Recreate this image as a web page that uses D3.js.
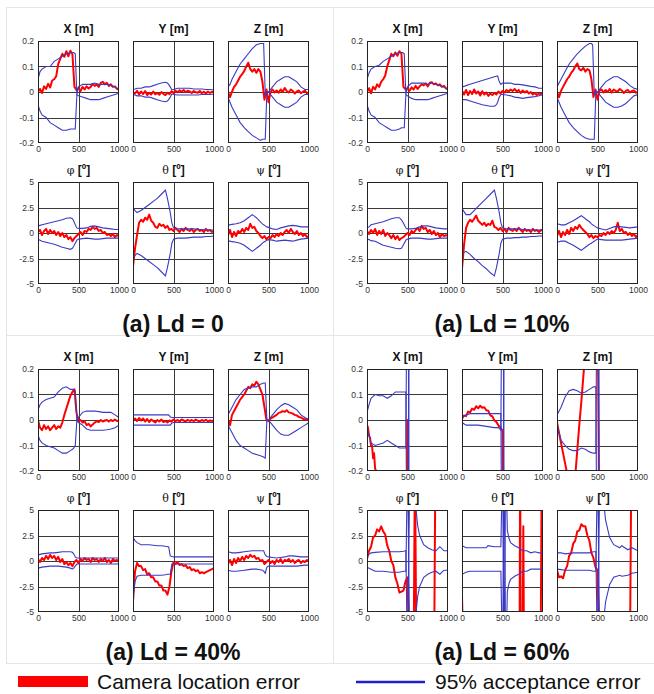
<!DOCTYPE html>
<html><head><meta charset="utf-8">
<script src="https://cdn.jsdelivr.net/npm/d3@7"></script>
<style>body{margin:0;background:#fff}text{font-family:"Liberation Sans",Arial,sans-serif}</style>
</head><body>
<svg id="chart" width="654" height="694"></svg>
<script>
// ---------- labels / ticks ----------
const captions = ["(a) Ld = 0", "(a) Ld = 10%", "(a) Ld = 40%", "(a) Ld = 60%"];
const subKeys = ["X", "Y", "Z", "phi", "theta", "psi"];
const subNames = ["X", "Y", "Z", "\u03c6", "\u03b8", "\u03c8"];
const subUnits = [" [m]", " [m]", " [m]", " [\u00ba]", " [\u00ba]", " [\u00ba]"];
const posTicks = [-0.2, -0.1, 0, 0.1, 0.2];
const angTicks = [-5, -2.5, 0, 2.5, 5];
const xTicks = [0, 500, 1000];
const legendLabels = ["Camera location error", "95% acceptance error"];

// ---------- sample positions ----------
const xsRed = [0,25,50,75,100,125,150,175,200,225,250,275,300,325,350,375,400,425,450,475,500,525,550,575,600,625,650,675,700,725,750,775,800,825,850,875,900,925,950,975,1000];
const xsEnv = [0,25,50,100,150,200,250,300,350,400,425,440,460,480,500,550,600,650,700,750,800,850,900,950,1000];

// ---------- Ld = 0 ----------
const ld0_X_red = [0,0.012,-0.004,0.022,0.012,0.032,0.018,0.045,0.05,0.062,0.11,0.13,0.15,0.138,0.16,0.14,0.162,0.148,0.02,0.008,0.016,0.004,0.02,0.01,0.022,0.014,0.02,0.032,0.024,0.03,0.02,0.036,0.04,0.03,0.036,0.024,0.03,0.02,0.022,0.012,0.01];
const ld0_X_up = [0.05,0.08,0.09,0.1,0.1,0.12,0.13,0.14,0.15,0.155,0.155,0.155,0.15,-0.01,0.02,0.03,0.03,0.03,0.035,0.03,0.03,0.03,0.025,0.02,0.01];
const ld0_X_lo = [-0.05,-0.075,-0.09,-0.1,-0.12,-0.13,-0.14,-0.15,-0.15,-0.145,-0.145,-0.145,-0.145,-0.01,-0.015,-0.02,-0.025,-0.03,-0.03,-0.03,-0.025,-0.02,-0.015,-0.01,-0.005];
const ld0_Y_red = [0,-0.006,0.005,-0.01,0.002,-0.008,0.004,-0.012,-0.003,-0.01,0.002,-0.009,-0.004,-0.011,0,-0.007,-0.012,-0.003,-0.009,0.003,-0.004,0.005,-0.001,0.007,0.001,0.008,-0.001,0.005,0.002,-0.004,0.004,-0.001,-0.003,0.004,-0.005,0.001,-0.006,0.002,-0.004,0.001,-0.002];
const ld0_Y_up = [0.01,0.012,0.015,0.015,0.02,0.02,0.025,0.03,0.035,0.038,0.035,0.03,0.02,0.008,0.01,0.015,0.015,0.015,0.015,0.012,0.012,0.012,0.01,0.01,0.008];
const ld0_Y_lo = [-0.01,-0.012,-0.015,-0.015,-0.02,-0.02,-0.025,-0.03,-0.035,-0.038,-0.035,-0.03,-0.02,-0.008,-0.01,-0.012,-0.012,-0.012,-0.012,-0.012,-0.012,-0.01,-0.01,-0.01,-0.008];
const ld0_Z_red = [0,-0.02,0.002,0.02,0.03,0.045,0.06,0.07,0.082,0.1,0.115,0.09,0.08,0.09,0.075,0.09,0.08,0.04,-0.03,0.01,-0.04,0,0.01,-0.002,0.006,-0.003,0.01,0,0.016,0.004,-0.002,0.01,0.004,-0.006,0.002,0.006,-0.005,0.001,0.005,-0.005,0];
const ld0_Z_up = [0.02,0.03,0.05,0.08,0.11,0.13,0.15,0.17,0.185,0.19,0.19,0.19,-0.01,0,0,0.02,0.04,0.05,0.06,0.06,0.05,0.04,0.02,0.01,0.01];
const ld0_Z_lo = [-0.02,-0.04,-0.06,-0.09,-0.12,-0.14,-0.155,-0.17,-0.18,-0.19,-0.185,-0.185,-0.185,0,0,-0.02,-0.04,-0.05,-0.06,-0.06,-0.05,-0.04,-0.02,-0.01,-0.01];
const ld0_phi_red = [0.1,0.3,-0.2,0.2,0.4,-0.1,0.3,0,0.2,-0.2,0.1,-0.3,0,-0.4,-0.2,-0.6,-0.4,-0.8,-0.5,-0.3,-0.1,0.1,-0.2,0.2,0.1,0.4,0.3,0.6,0.4,0.5,0.2,0.3,0,0.1,-0.2,-0.1,-0.3,-0.1,-0.4,-0.2,-0.3];
const ld0_phi_up = [0.7,0.75,0.8,0.9,1.0,1.1,1.2,1.3,1.45,1.5,1.4,1.2,0.8,0.5,0.45,0.45,0.5,0.65,0.7,0.6,0.5,0.45,0.4,0.35,0.35];
const ld0_phi_lo = [-0.6,-0.7,-0.8,-0.9,-1.0,-1.1,-1.25,-1.4,-1.5,-1.6,-1.5,-1.3,-1.0,-0.7,-0.6,-0.55,-0.5,-0.55,-0.6,-0.6,-0.55,-0.5,-0.5,-0.5,-0.5];
const ld0_theta_red = [-3.3,-1.5,-0.2,1.0,1.3,1.1,1.5,1.3,1.8,1.2,1.0,0.6,0.5,0.9,0.7,0.8,0.5,0.7,0.3,0.4,0.2,0.5,0.3,0.1,0.4,0.2,0.5,0.3,0.2,0.4,0.1,0.3,0.4,0.2,0.3,0.1,0.4,0.2,0.3,0.1,0.2];
const ld0_theta_up = [2.5,2.2,2.0,2.2,2.5,2.8,3.1,3.4,3.8,4.2,3.4,2.8,2.0,1.0,0.5,0.4,0.4,0.4,0.4,0.4,0.35,0.35,0.3,0.3,0.3];
const ld0_theta_lo = [-2.5,-2.2,-2.0,-2.2,-2.5,-2.8,-3.1,-3.4,-3.8,-4.2,-3.4,-2.8,-2.0,-1.0,-0.6,-0.5,-0.5,-0.5,-0.45,-0.4,-0.4,-0.4,-0.35,-0.35,-0.3];
const ld0_psi_red = [-0.2,0.3,-0.4,0.1,-0.3,0.2,0,0.4,0.1,0.5,0.3,0.9,0.5,0.6,0.2,0,-0.3,-0.5,-0.3,-0.6,-0.4,-0.5,-0.2,-0.4,-0.1,-0.3,0,-0.2,0.1,0.3,0,0.4,0.1,-0.1,0.2,-0.2,0,-0.3,-0.1,-0.4,-0.3];
const ld0_psi_up = [0.8,0.8,0.85,0.9,1.0,1.2,1.5,1.8,1.5,1.1,0.9,0.8,0.7,0.6,0.55,0.4,0.35,0.5,0.6,0.7,0.75,0.7,0.6,0.6,0.6];
const ld0_psi_lo = [-0.8,-0.8,-0.85,-0.9,-1.0,-1.2,-1.5,-1.8,-1.5,-1.2,-1.0,-0.9,-0.8,-0.7,-0.65,-0.7,-0.8,-0.75,-0.7,-0.75,-0.8,-0.7,-0.6,-0.55,-0.5];

// ---------- Ld = 10% ----------
const ld10_X_red = [0,0.015,-0.005,0.02,0.01,0.03,0.02,0.04,0.05,0.065,0.1,0.125,0.15,0.14,0.155,0.142,0.16,0.15,0.02,0.01,0.014,0.005,0.018,0.01,0.024,0.012,0.022,0.03,0.026,0.034,0.022,0.036,0.038,0.03,0.034,0.026,0.03,0.02,0.024,0.014,0.012];
const ld10_X_up = [0.05,0.075,0.09,0.1,0.105,0.12,0.13,0.14,0.15,0.155,0.155,0.155,0.15,-0.01,0.02,0.035,0.035,0.035,0.035,0.03,0.035,0.03,0.025,0.02,0.01];
const ld10_X_lo = [-0.05,-0.075,-0.09,-0.1,-0.12,-0.13,-0.14,-0.15,-0.15,-0.145,-0.14,-0.14,-0.14,-0.01,-0.015,-0.025,-0.03,-0.03,-0.03,-0.03,-0.025,-0.02,-0.015,-0.01,-0.005];
const ld10_Y_red = [0.005,-0.01,0.008,-0.012,0.004,-0.008,0.01,-0.006,0.002,-0.014,0.003,-0.01,-0.002,-0.015,-0.006,-0.012,-0.004,-0.01,0.002,-0.006,0.004,-0.002,0.008,0.002,0.01,0.004,0.012,0.002,0.008,-0.004,0.006,-0.002,0.004,-0.006,0,-0.01,-0.004,-0.012,-0.006,-0.008,-0.002];
const ld10_Y_up = [0.02,0.022,0.025,0.03,0.035,0.04,0.045,0.05,0.055,0.06,0.062,0.063,0.04,0.03,0.035,0.035,0.035,0.03,0.03,0.028,0.025,0.022,0.02,0.015,0.015];
const ld10_Y_lo = [-0.03,-0.03,-0.03,-0.035,-0.04,-0.045,-0.05,-0.053,-0.056,-0.056,-0.05,-0.04,-0.02,-0.01,-0.01,-0.012,-0.015,-0.02,-0.022,-0.025,-0.022,-0.02,-0.018,-0.015,-0.01];
const ld10_Z_red = [0,-0.02,0.005,0.02,0.035,0.05,0.06,0.075,0.085,0.1,0.112,0.09,0.085,0.095,0.08,0.09,0.085,0.05,-0.02,0.01,-0.03,0.005,0.01,-0.002,0.008,0,0.012,-0.002,0.01,0.004,0.002,0.012,0.006,-0.004,0.004,0.008,-0.002,0.004,0.006,-0.003,0.002];
const ld10_Z_up = [0.02,0.035,0.05,0.08,0.11,0.13,0.15,0.165,0.18,0.19,0.19,0.185,-0.01,0,0,0.02,0.04,0.05,0.06,0.06,0.05,0.04,0.025,0.015,0.01];
const ld10_Z_lo = [-0.02,-0.04,-0.06,-0.09,-0.12,-0.14,-0.155,-0.17,-0.18,-0.185,-0.185,-0.185,-0.185,0,0,-0.02,-0.04,-0.05,-0.06,-0.06,-0.055,-0.045,-0.03,-0.015,-0.01];
const ld10_phi_red = [0.2,-0.1,0.3,0,0.4,-0.2,0.2,-0.1,0.3,-0.3,0,-0.2,-0.5,-0.2,-0.6,-0.3,-0.7,-0.5,-0.4,-0.2,0,-0.2,0.2,0,0.3,0.5,0.2,0.7,0.4,0.5,0.1,0.3,-0.1,0.2,-0.2,0,-0.4,-0.1,-0.3,-0.2,-0.3];
const ld10_phi_up = [0.5,0.6,0.8,0.9,1.0,1.1,1.25,1.4,1.5,1.5,1.3,1.1,0.8,0.5,0.4,0.4,0.45,0.6,0.7,0.7,0.6,0.5,0.45,0.4,0.4];
const ld10_phi_lo = [-0.6,-0.65,-0.75,-0.8,-1.0,-1.2,-1.3,-1.4,-1.5,-1.55,-1.5,-1.3,-1.0,-0.7,-0.6,-0.5,-0.5,-0.5,-0.55,-0.6,-0.6,-0.55,-0.5,-0.5,-0.5];
const ld10_theta_red = [-3.5,-1.2,0.5,1.0,1.3,1.1,1.4,1.7,1.2,1.0,0.8,1.0,0.7,0.9,0.8,1.2,0.6,0.5,0.3,0.5,0.2,0.4,0.1,0.5,0.3,0.2,0.4,0.2,0.5,0.3,0.1,0.4,0.2,0.3,0.1,0.4,0.2,0.3,0.1,0.3,0.2];
const ld10_theta_up = [2.4,2.1,1.8,1.8,2.2,2.6,3.0,3.4,3.8,4.2,3.4,2.8,2.0,1.0,0.5,0.4,0.4,0.4,0.4,0.35,0.35,0.3,0.3,0.3,0.3];
const ld10_theta_lo = [-2.1,-1.9,-1.8,-2.1,-2.5,-2.8,-3.2,-3.5,-3.9,-4.2,-3.4,-2.8,-2.0,-1.0,-0.6,-0.5,-0.5,-0.45,-0.45,-0.4,-0.4,-0.35,-0.35,-0.3,-0.3];
const ld10_psi_red = [-0.3,0.2,-0.4,0.1,-0.2,0.3,-0.1,0.5,0.2,0.6,0.4,0.8,0.5,0.3,0.1,-0.1,-0.4,-0.2,-0.5,-0.3,-0.4,-0.2,-0.3,0,-0.2,0.1,-0.1,0.2,0,0.3,1.0,0.2,0.4,0,0.1,-0.2,0,-0.3,-0.1,-0.4,-0.2];
const ld10_psi_up = [0.9,0.85,0.8,0.8,1.0,1.2,1.45,1.7,1.4,1.1,0.9,0.8,0.7,0.6,0.5,0.4,0.3,0.45,0.6,0.65,0.6,0.55,0.5,0.55,0.6];
const ld10_psi_lo = [-0.9,-0.85,-0.8,-0.8,-1.0,-1.2,-1.45,-1.7,-1.4,-1.1,-1.0,-0.9,-0.8,-0.7,-0.6,-0.65,-0.7,-0.7,-0.7,-0.7,-0.7,-0.65,-0.6,-0.55,-0.5];

// ---------- Ld = 40% ----------
const ld40_X_red = [0,-0.03,-0.04,-0.02,-0.035,-0.025,-0.04,-0.03,-0.02,-0.035,-0.025,-0.03,-0.01,0.02,0.045,0.07,0.095,0.11,0.12,0.03,-0.005,0,-0.01,-0.005,-0.02,-0.015,-0.025,-0.018,-0.01,-0.005,-0.008,0,-0.006,-0.002,0,-0.006,0,-0.004,0.002,-0.004,-0.002];
const ld40_X_up = [0.04,0.06,0.07,0.08,0.085,0.09,0.11,0.125,0.13,0.12,0.12,0.12,0.115,0,0.01,0.03,0.035,0.035,0.035,0.033,0.03,0.03,0.03,0.02,0.01];
const ld40_X_lo = [-0.06,-0.08,-0.09,-0.1,-0.105,-0.11,-0.12,-0.13,-0.13,-0.12,-0.115,-0.11,-0.1,0,-0.01,-0.02,-0.035,-0.04,-0.04,-0.04,-0.04,-0.038,-0.035,-0.03,-0.02];
const ld40_Y_red = [0,0.006,-0.004,0.008,-0.002,0.006,-0.006,0.004,-0.008,0.002,-0.004,-0.01,0,-0.006,0.002,-0.008,-0.004,-0.01,-0.002,-0.006,0.002,-0.004,0,-0.006,0.002,-0.002,-0.006,0.001,-0.004,0,-0.005,0.002,-0.003,-0.006,0,-0.004,0.001,-0.005,-0.002,-0.004,-0.002];
const ld40_Y_up = [0.02,0.02,0.02,0.02,0.02,0.02,0.02,0.02,0.02,0.02,0.02,0.02,0.012,0.01,0.01,0.01,0.01,0.01,0.01,0.01,0.01,0.01,0.01,0.01,0.01];
const ld40_Y_lo = [-0.02,-0.02,-0.02,-0.02,-0.02,-0.02,-0.02,-0.02,-0.02,-0.02,-0.02,-0.02,-0.02,-0.012,-0.01,-0.01,-0.01,-0.01,-0.01,-0.01,-0.01,-0.01,-0.01,-0.01,-0.01];
const ld40_Z_red = [0,-0.02,0.02,0.035,0.05,0.065,0.08,0.09,0.1,0.115,0.13,0.125,0.14,0.135,0.15,0.14,0.12,0.1,0.05,0,-0.005,0.005,0.01,0.015,0.02,0.028,0.03,0.035,0.032,0.038,0.03,0.028,0.025,0.02,0.018,0.012,0.01,0.005,0.002,0.003,0];
const ld40_Z_up = [0.02,0.035,0.05,0.08,0.1,0.12,0.125,0.13,0.13,0.14,0.143,0.145,0.145,0,0,0.02,0.04,0.055,0.065,0.06,0.05,0.04,0.02,0.01,0];
const ld40_Z_lo = [-0.02,-0.035,-0.05,-0.08,-0.1,-0.11,-0.12,-0.13,-0.135,-0.14,-0.143,-0.145,-0.15,0,0,-0.02,-0.04,-0.055,-0.06,-0.06,-0.05,-0.04,-0.03,-0.02,-0.01];
const ld40_phi_red = [0.2,-0.1,0.3,0.1,0.5,0.2,0.6,0.3,0.5,0.1,0.4,-0.1,0.2,-0.3,-0.1,-0.4,-0.2,-0.5,-0.1,0.1,-0.2,0.2,0,0.3,0.1,0.2,-0.1,0.3,0.1,0.2,-0.1,0.2,0,0.3,-0.1,0.1,-0.2,0.2,0,0.1,-0.1];
const ld40_phi_up = [0.6,0.65,0.7,0.75,0.8,0.8,0.85,0.9,0.9,0.9,0.85,0.7,0.4,0.3,0.3,0.3,0.3,0.3,0.3,0.3,0.3,0.3,0.3,0.3,0.3];
const ld40_phi_lo = [-0.7,-0.65,-0.6,-0.55,-0.5,-0.5,-0.5,-0.55,-0.6,-0.7,-0.8,-0.7,-0.5,-0.3,-0.3,-0.3,-0.3,-0.3,-0.3,-0.3,-0.3,-0.3,-0.3,-0.3,-0.3];
const ld40_theta_red = [-4.0,-1.0,-0.2,-0.5,-0.5,-0.9,-0.8,-1.3,-1.2,-1.6,-1.6,-2.0,-2.0,-2.4,-2.4,-2.9,-2.9,-3.3,-2.5,-1.0,-0.1,-0.3,-0.1,-0.4,-0.3,-0.5,-0.4,-0.7,-0.6,-0.9,-0.8,-1.0,-0.9,-1.2,-1.1,-1.2,-1.1,-1.0,-0.9,-0.8,-0.7];
const ld40_theta_up = [2.3,2.0,1.8,1.6,1.6,1.6,1.55,1.5,1.5,1.45,1.4,1.4,0.5,0.45,0.4,0.4,0.4,0.4,0.4,0.4,0.4,0.4,0.4,0.4,0.4];
const ld40_theta_lo = [-3.5,-2.0,-1.5,-1.4,-1.4,-1.4,-1.4,-1.4,-1.4,-1.35,-1.3,-1.3,-1.3,-0.3,-0.3,-0.3,-0.3,-0.3,-0.3,-0.3,-0.3,-0.3,-0.3,-0.3,-0.3];
const ld40_psi_red = [-0.3,0.1,-0.4,0.2,-0.2,0.3,0,0.4,0.1,0.5,0.3,0.6,0.4,0.5,0.2,0.3,0,0.1,-0.3,-0.1,0.1,-0.2,0,-0.3,0.1,-0.1,0.2,-0.2,0.1,0,0.2,-0.1,0.1,-0.2,0,0.1,-0.2,0,-0.1,0.1,-0.1];
const ld40_psi_up = [0.9,0.85,0.8,0.8,0.85,0.9,0.95,1.0,1.0,1.0,1.0,1.0,0.6,0.45,0.4,0.35,0.3,0.35,0.4,0.5,0.5,0.45,0.4,0.4,0.4];
const ld40_psi_lo = [-0.9,-0.95,-1.0,-1.0,-0.95,-0.9,-0.85,-0.8,-0.8,-0.85,-0.9,-1.0,-1.2,-0.6,-0.5,-0.5,-0.5,-0.5,-0.5,-0.5,-0.5,-0.5,-0.45,-0.4,-0.4];

// ---------- Ld = 60% (diverges: values beyond the axis range are clipped) ----------
const ld60_X_red_x = [0,12,25,37,50,62,75,87,100,112,125,475,500,525,1000];
const ld60_X_red = [-0.02,-0.03,-0.06,-0.07,-0.1,-0.1,-0.15,-0.13,-0.19,-0.2,-0.3,-1,0,-1,-1];
const ld60_X_env_x = [0,25,50,100,150,200,250,300,350,400,450,480,500,530,1000];
const ld60_X_up = [0.03,0.06,0.085,0.1,0.095,0.095,0.085,0.095,0.11,0.11,0.11,0.11,-1,1,1];
const ld60_X_lo = [-0.03,-0.06,-0.09,-0.1,-0.095,-0.09,-0.08,-0.09,-0.1,-0.11,-0.11,-0.11,1,-1,-1];
const ld60_Y_red_x = [0,25,50,75,100,125,150,175,200,225,250,275,300,325,350,375,400,425,450,475,500,520,1000];
const ld60_Y_red = [0.005,0.018,0.015,0.033,0.03,0.045,0.04,0.054,0.046,0.056,0.048,0.05,0.038,0.036,0.018,0.014,-0.002,-0.008,-0.022,-0.028,-0.042,-1,-1];
const ld60_Y_env_x = [0,50,100,200,300,400,450,480,500,530,1000];
const ld60_Y_up = [0.01,0.02,0.025,0.025,0.025,0.025,0.025,0.025,-1,1,1];
const ld60_Y_lo = [-0.01,-0.02,-0.02,-0.02,-0.025,-0.03,-0.03,-0.04,1,-1,-1];
const ld60_Z_red_x = [0,25,50,75,100,125,150,225,250,275,300,325,350,375,500,525,1000];
const ld60_Z_red = [-0.01,-0.05,-0.09,-0.13,-0.17,-0.21,-0.5,-0.22,-0.12,-0.02,0.07,0.17,0.27,0.5,0.5,-0.5,-0.5];
const ld60_Z_env_x = [0,50,100,150,200,250,300,350,400,450,480,500,530,1000];
const ld60_Z_up = [0.02,0.05,0.09,0.115,0.12,0.115,0.105,0.11,0.12,0.13,0.13,-1,1,1];
const ld60_Z_lo = [-0.02,-0.08,-0.1,-0.115,-0.12,-0.12,-0.11,-0.115,-0.125,-0.13,-0.13,1,-1,-1];
const ld60_phi_red_x = [0,25,50,75,100,125,150,175,200,225,250,275,300,325,350,375,400,425,450,475,500,525,575,592,610,828,845,1000];
const ld60_phi_red = [0.2,1.0,1.4,2.3,2.5,3.1,2.9,3.4,2.9,2.6,1.5,1.0,0.0,-0.4,-1.6,-2.2,-3.1,-3.0,-2.9,-2.0,-1.6,-10,-10,10,-10,-10,10,10];
const ld60_phi_env_x = [0,50,100,200,300,400,450,480,500,530,600,625,650,700,750,800,850,900,950,1000];
const ld60_phi_up = [0.5,0.8,0.85,0.9,0.9,0.9,0.95,1.0,-10,10,5.5,3.5,2.5,1.6,1.3,1.1,1.0,1.4,1.0,1.0];
const ld60_phi_lo = [-0.6,-0.8,-1.0,-1.0,-1.1,-1.1,-1.0,-1.0,10,-10,-5.5,-3.5,-2.5,-1.6,-1.3,-1.1,-1.0,-1.3,-0.9,-0.9];
const ld60_theta_red_x = [0,20,710,718,726,748,757,766,970,985,1000];
const ld60_theta_red = [-3.5,-10,-10,10,-10,-10,3.4,-10,-10,10,10];
const ld60_theta_env_x = [0,50,100,200,300,320,400,450,480,500,520,540,560,580,600,650,700,750,800,850,900,950,1000];
const ld60_theta_up = [1.5,1.3,1.3,1.3,1.3,1.5,1.4,1.4,1.4,10,-10,10,3.0,2.2,1.8,1.5,1.3,1.0,1.0,0.8,0.9,0.8,0.8];
const ld60_theta_lo = [-1.3,-1.1,-1.0,-1.0,-1.0,-1.0,-1.0,-1.0,-1.0,-10,10,-10,-3.0,-2.2,-1.8,-1.5,-1.3,-1.0,-1.0,-0.8,-0.8,-0.8,-0.8];
const ld60_psi_red_x = [0,25,50,75,100,125,150,175,200,225,250,275,300,325,350,375,400,425,450,475,500,525,900,918,1000];
const ld60_psi_red = [-0.9,-1.6,-1.5,-1.7,-0.9,-0.5,0.5,0.8,1.7,2.0,2.9,3.0,3.6,3.4,3.4,2.5,2.0,0.8,0.3,-0.6,-0.9,-10,-10,10,10];
const ld60_psi_env_x = [0,50,100,200,300,400,450,480,500,530,580,600,650,700,775,800,875,925,1000];
const ld60_psi_up = [0.8,0.8,0.7,0.8,0.8,0.8,0.9,0.9,-10,10,5.5,4.0,2.3,1.6,1.3,1.5,1.1,1.3,1.0];
const ld60_psi_lo = [-0.8,-0.85,-0.9,-0.9,-0.9,-0.9,-1.0,-1.0,10,-10,-5.5,-4.0,-2.3,-1.6,-1.4,-1.5,-1.4,-1.2,-1.1];

// ---------- table built from the arrays ----------
function std(red, up, lo) { return {red: [xsRed, red], up: [xsEnv, up], lo: [xsEnv, lo]}; }
const panels = [
  {caption: captions[0], col: 0, row: 0, plots: [
    std(ld0_X_red, ld0_X_up, ld0_X_lo), std(ld0_Y_red, ld0_Y_up, ld0_Y_lo), std(ld0_Z_red, ld0_Z_up, ld0_Z_lo),
    std(ld0_phi_red, ld0_phi_up, ld0_phi_lo), std(ld0_theta_red, ld0_theta_up, ld0_theta_lo), std(ld0_psi_red, ld0_psi_up, ld0_psi_lo)]},
  {caption: captions[1], col: 1, row: 0, plots: [
    std(ld10_X_red, ld10_X_up, ld10_X_lo), std(ld10_Y_red, ld10_Y_up, ld10_Y_lo), std(ld10_Z_red, ld10_Z_up, ld10_Z_lo),
    std(ld10_phi_red, ld10_phi_up, ld10_phi_lo), std(ld10_theta_red, ld10_theta_up, ld10_theta_lo), std(ld10_psi_red, ld10_psi_up, ld10_psi_lo)]},
  {caption: captions[2], col: 0, row: 1, plots: [
    std(ld40_X_red, ld40_X_up, ld40_X_lo), std(ld40_Y_red, ld40_Y_up, ld40_Y_lo), std(ld40_Z_red, ld40_Z_up, ld40_Z_lo),
    std(ld40_phi_red, ld40_phi_up, ld40_phi_lo), std(ld40_theta_red, ld40_theta_up, ld40_theta_lo), std(ld40_psi_red, ld40_psi_up, ld40_psi_lo)]},
  {caption: captions[3], col: 1, row: 1, plots: [
    {red: [ld60_X_red_x, ld60_X_red], up: [ld60_X_env_x, ld60_X_up], lo: [ld60_X_env_x, ld60_X_lo]},
    {red: [ld60_Y_red_x, ld60_Y_red], up: [ld60_Y_env_x, ld60_Y_up], lo: [ld60_Y_env_x, ld60_Y_lo]},
    {red: [ld60_Z_red_x, ld60_Z_red], up: [ld60_Z_env_x, ld60_Z_up], lo: [ld60_Z_env_x, ld60_Z_lo]},
    {red: [ld60_phi_red_x, ld60_phi_red], up: [ld60_phi_env_x, ld60_phi_up], lo: [ld60_phi_env_x, ld60_phi_lo]},
    {red: [ld60_theta_red_x, ld60_theta_red], up: [ld60_theta_env_x, ld60_theta_up], lo: [ld60_theta_env_x, ld60_theta_lo]},
    {red: [ld60_psi_red_x, ld60_psi_red], up: [ld60_psi_env_x, ld60_psi_up], lo: [ld60_psi_env_x, ld60_psi_lo]}]}
];

// ---------- layout ----------
const svg = d3.select("#chart");
const W = 81, H = 102;
const colX = [38, 133, 228];
const rowY = [41, 182];
const panelDX = 329, panelDY = 328;
const RED = "#ff0000", BLUE = "#3a3ac6", GRID = "#3a3a3a";
const fmt = d => String(d);

// panel separators
const sep = svg.append("g").attr("stroke", "#e6e6e6").attr("stroke-width", 1);
sep.append("line").attr("x1", 6).attr("x2", 654).attr("y1", 7.5).attr("y2", 7.5);
sep.append("line").attr("x1", 6).attr("x2", 654).attr("y1", 335.5).attr("y2", 335.5);
sep.append("line").attr("x1", 6).attr("x2", 654).attr("y1", 663.5).attr("y2", 663.5);
sep.append("line").attr("x1", 6.5).attr("x2", 6.5).attr("y1", 7).attr("y2", 663);
sep.append("line").attr("x1", 333.5).attr("x2", 333.5).attr("y1", 7).attr("y2", 663);

let clipId = 0;
panels.forEach(p => {
  const pg = svg.append("g").attr("transform", `translate(${p.col * panelDX},${p.row * panelDY})`);
  p.plots.forEach((spec, i) => {
    const r = Math.floor(i / 3), c = i % 3;
    const isAng = r === 1;
    const g = pg.append("g").attr("transform", `translate(${colX[c]},${rowY[r]})`);
    const x = d3.scaleLinear().domain([0, 1000]).range([0, W]);
    const y = d3.scaleLinear().domain(isAng ? [-5, 5] : [-0.2, 0.2]).range([H, 0]);
    const ticks = isAng ? angTicks : posTicks;
    // grid
    g.append("g").selectAll("line").data(ticks.slice(1, -1)).join("line")
      .attr("x1", 0).attr("x2", W).attr("y1", d => Math.round(y(d)) + 0.5).attr("y2", d => Math.round(y(d)) + 0.5)
      .attr("stroke", GRID).attr("stroke-width", 1);
    g.append("line").attr("x1", Math.round(x(500)) + 0.5).attr("x2", Math.round(x(500)) + 0.5)
      .attr("y1", 0).attr("y2", H).attr("stroke", GRID).attr("stroke-width", 1);
    // clip
    const id = "clip" + (clipId++);
    g.append("clipPath").attr("id", id).append("rect").attr("width", W).attr("height", H);
    const lines = g.append("g").attr("clip-path", `url(#${id})`);
    const line = d3.line().x(d => x(d[0])).y(d => y(d[1]));
    lines.append("path").datum(d3.zip(spec.red[0], spec.red[1])).attr("d", line)
      .attr("fill", "none").attr("stroke", RED).attr("stroke-width", 2).attr("stroke-linejoin", "round");
    [spec.up, spec.lo].forEach(s => {
      lines.append("path").datum(d3.zip(s[0], s[1])).attr("d", line)
        .attr("fill", "none").attr("stroke", BLUE).attr("stroke-width", 1.1);
    });
    // frame
    g.append("rect").attr("x", 0.5).attr("y", 0.5).attr("width", W - 1).attr("height", H - 1)
      .attr("fill", "none").attr("stroke", "#222").attr("stroke-width", 1);
    // x axis
    const xa = g.append("g").attr("transform", `translate(0,${H})`)
      .call(d3.axisBottom(x).tickValues(xTicks).tickSize(0).tickPadding(3).tickFormat(fmt));
    xa.select(".domain").remove();
    xa.selectAll("text").attr("font-size", 8.5).attr("fill", "#333").attr("font-family", "Liberation Sans, Arial, sans-serif");
    // y axis (first column)
    if (c === 0) {
      const ya = g.append("g").call(d3.axisLeft(y).tickValues(ticks).tickSize(0).tickPadding(4).tickFormat(fmt));
      ya.select(".domain").remove();
      ya.selectAll("text").attr("font-size", 8.5).attr("fill", "#333").attr("font-family", "Liberation Sans, Arial, sans-serif");
    }
    // title
    const t = g.append("text").attr("x", W / 2).attr("y", -8.5).attr("text-anchor", "middle")
      .attr("font-size", 12).attr("font-weight", "bold").attr("fill", "#111");
    t.append("tspan").attr("font-weight", isAng ? "normal" : "bold").attr("font-family", isAng ? "DejaVu Serif, serif" : null)
      .attr("font-size", isAng ? 11 : 12).text(subNames[i]);
    t.append("tspan").text(subUnits[i]);
  });
  pg.append("text").attr("x", 173).attr("y", 332).attr("text-anchor", "middle")
    .attr("font-size", 23).attr("font-weight", "bold").attr("fill", "#111").text(p.caption);
});

// legend
const lg = svg.append("g");
lg.append("rect").attr("x", 18).attr("y", 676).attr("width", 70).attr("height", 11).attr("fill", RED);
lg.append("text").attr("x", 97).attr("y", 689).attr("font-size", 21).attr("fill", "#111").text(legendLabels[0]);
lg.append("line").attr("x1", 356).attr("x2", 425).attr("y1", 682).attr("y2", 682).attr("stroke", "#1f1fc8").attr("stroke-width", 2.5);
lg.append("text").attr("x", 435).attr("y", 689).attr("font-size", 21).attr("fill", "#111").text(legendLabels[1]);
</script>
</body></html>
